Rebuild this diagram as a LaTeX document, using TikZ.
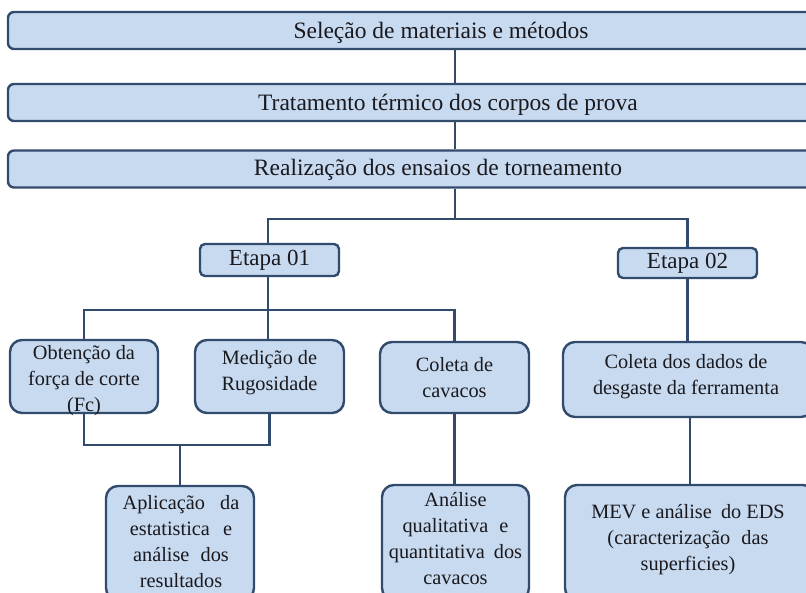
\documentclass[tikz,border=0pt]{standalone}
\usepackage{fontspec}
\setmainfont{Liberation Serif}
\definecolor{boxfill}{RGB}{200,218,240}
\definecolor{boxline}{RGB}{50,75,108}
\definecolor{ink}{RGB}{25,25,30}
\begin{document}
\begin{tikzpicture}[x=1pt,y=-1pt,
  wide/.style={draw=boxline, fill=boxfill, line width=2.4pt, rounded corners=6pt, minimum height=37pt, minimum width=866pt, inner sep=0pt},
  widetext/.style={inner sep=0pt, text=ink, font=\fontsize{23.5}{27}\selectfont},
  tag/.style={draw=boxline, fill=boxfill, line width=2.4pt, rounded corners=5pt, inner sep=0pt, minimum width=139pt, text=ink, font=\fontsize{23}{26}\selectfont},
  card/.style={draw=boxline, fill=boxfill, line width=2.4pt, rounded corners=12pt, inner sep=0pt, align=center, text=ink, font=\fontsize{20.3}{26}\selectfont},
  conn/.style={draw=boxline, line width=2.4pt}]
\useasboundingbox (0,0) rectangle (806,592);
\clip (0,0) rectangle (806,592);

% wide boxes
\node[wide] (b1) at (441,30.5) {};
\node[wide] (b2) at (441,102.5) {};
\node[wide] (b3) at (441,169) {};
\node[widetext] (t1) at (441,33) {Seleção de materiais e métodos};
\node[widetext] (t2) at (448,105) {Tratamento térmico dos corpos de prova};
\node[widetext] (t3) at (438,170) {Realização dos ensaios de torneamento};

% stages
\node[tag, minimum height=32pt] (e1) at (269.5,260) {Etapa 01};
\node[tag, minimum height=30pt] (e2) at (687.5,263) {Etapa 02};

% level 3
\node[card, minimum width=148pt, minimum height=73pt] (o) at (84,376.5) {};
\node[card, minimum width=149pt, minimum height=73pt] (m) at (269.5,376.5) {};
\node[card, minimum width=149pt, minimum height=71pt] (c) at (454.5,377.5) {};
\node[card, minimum width=250pt, minimum height=75pt] (cd) at (688,379.5) {};
\node[card, draw=none, fill=none] (ot) at (84,381) {Obtenção da\\força de corte\\(Fc)};
\node[card, draw=none, fill=none] (mt) at (269.5,373) {Medição de\\Rugosidade};
\node[card, draw=none, fill=none] (ct) at (454.5,378) {Coleta de\\cavacos};
\node[card, draw=none, fill=none] (cdt) at (686,377) {Coleta dos dados de\\desgaste da ferramenta};

% level 4
\node[card, minimum width=148pt, minimum height=114pt] (ap) at (180,543) {};
\node[card, minimum width=147pt, minimum height=115pt] (an) at (455.5,542.5) {};
\node[card, minimum width=250pt, minimum height=115pt] (mev) at (690,542.5) {};
\node[card, draw=none, fill=none] (apt) at (181,542) {Aplicação\hspace{0.5em} da\\estatistica\hspace{0.4em} e\\análise\hspace{0.3em} dos\\resultados};
\node[card, draw=none, fill=none] (ant) at (455.5,539) {Análise\\qualitativa\hspace{0.3em} e\\quantitativa\hspace{0.2em} dos\\cavacos};
\node[card, draw=none, fill=none] (mevt) at (688,540) {MEV e análise\hspace{0.2em} do EDS\\(caracterização\hspace{0.3em} das\\superficies)};

% junction coordinates
\coordinate (ja) at (455,219);
\coordinate (jb) at (268,310);
\coordinate (jc) at (180,445);

% connectors
\draw[conn] (b1.south -| ja) -- (b2.north -| ja);
\draw[conn] (b2.south -| ja) -- (b3.north -| ja);
\draw[conn] (b3.south -| ja) -- (ja);
\draw[conn] (e1.north -| jb) |- (ja) -| (e2.north);
\draw[conn] (e1.south -| jb) -- (jb);
\draw[conn] (o.north) |- (jb) -| (c.north);
\draw[conn] (jb) -- (m.north -| jb);
\draw[conn] (o.south) |- (jc) -| (m.south);
\draw[conn] (jc) -- (ap.north);
\draw[conn] (c.south) -- (an.north -| c.south);
\draw[conn] (e2.south) -- (cd.north -| e2.south);
\draw[conn] (cd.south -| mev.north) -- (mev.north);
\end{tikzpicture}
\end{document}
